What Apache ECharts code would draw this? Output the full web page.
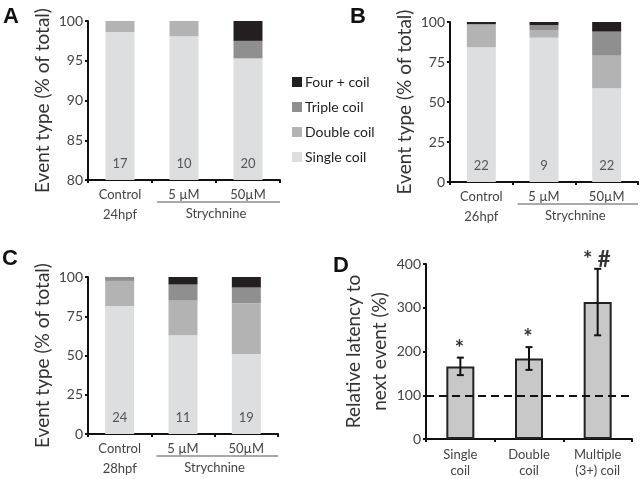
<!DOCTYPE html>
<html><head><meta charset="utf-8">
<script src="https://cdn.jsdelivr.net/npm/echarts@6/dist/echarts.min.js"></script>
<style>html,body{margin:0;padding:0;background:#fff}#c{width:640px;height:479px}</style>
</head><body><div id="c"></div>
<script>
// ---- data ----
const categories = ['Control', '5 µM', '50µM'];
const stages = ['24hpf', '26hpf', '28hpf'];
const treatment = 'Strychnine';
const seriesNames = ['Single coil', 'Double coil', 'Triple coil', 'Four + coil'];

const singleA = [98.6, 98.1, 95.3];
const doubleA = [1.4, 1.9, 0];
const tripleA = [0, 0, 2.2];
const fourA   = [0, 0, 2.5];
const nA = [17, 10, 20];

const singleB = [84.2, 90.2, 58.6];
const doubleB = [14.4, 4.8, 20.4];
const tripleB = [0, 3.1, 15.0];
const fourB   = [1.4, 1.9, 6.0];
const nB = [22, 9, 22];

const singleC = [81.5, 62.9, 50.9];
const doubleC = [16.0, 22.4, 32.3];
const tripleC = [2.5, 9.9, 10.1];
const fourC   = [0, 4.8, 6.7];
const nC = [24, 11, 19];

const catsD = ['Single\ncoil', 'Double\ncoil', 'Multiple\n(3+) coil'];
const meanD = [166, 184, 313];
const errD = [20, 26, 76];
const sigD = ['*', '*', '* #'];
const refLineD = 100;

const ticksA = {min: 80, max: 100, interval: 5};
const ticksBC = {min: 0, max: 100, interval: 25};
const ticksD = {min: 0, max: 400, interval: 100};

// ---- styling ----
const FONT = 'Lato, "Open Sans", sans-serif';
const colors = ['#dcdee0', '#b3b3b3', '#8f8f8f', '#231f20'];
const axisCol = '#111';

const chart = echarts.init(document.getElementById('c'), null, {renderer: 'canvas'});

const grids = [
  {left: 88, top: 21, width: 192, height: 159},
  {left: 450, top: 22, width: 188, height: 160},
  {left: 88, top: 277, width: 190, height: 158},
  {left: 426, top: 264, width: 206, height: 177}
];

function xAx(g, data, stage) {
  return {
    type: 'category', gridIndex: g, data: data,
    axisLine: {lineStyle: {color: axisCol, width: 2}},
    axisTick: {show: true, length: 3, lineStyle: {color: axisCol, width: 2}},
    axisLabel: {color: '#444', fontSize: 13, fontFamily: FONT, margin: 5, lineHeight: 20,
      formatter: v => (stage && v === data[0]) ? v + '\n' + stage : v},
    splitLine: {show: false}
  };
}
function yAx(g, t, name, gap, lh) {
  return {
    type: 'value', gridIndex: g, min: t.min, max: t.max, interval: t.interval,
    name: name, nameLocation: 'middle', nameGap: gap,
    nameTextStyle: {fontSize: 19, color: '#333', fontFamily: FONT, lineHeight: lh || 24},
    axisLine: {show: true, lineStyle: {color: axisCol, width: 2}},
    axisTick: {show: true, length: 3, lineStyle: {color: axisCol, width: 2}},
    axisLabel: {color: '#444', fontSize: 14, fontFamily: FONT, margin: 5},
    splitLine: {show: false}
  };
}

const panelData = [
  [singleA, doubleA, tripleA, fourA, nA],
  [singleB, doubleB, tripleB, fourB, nB],
  [singleC, doubleC, tripleC, fourC, nC]
];

const series = [];
panelData.forEach((pd, p) => {
  for (let s = 0; s < 4; s++) {
    const ser = {
      type: 'bar', name: seriesNames[s], stack: 'p' + p,
      xAxisIndex: p, yAxisIndex: p, data: pd[s], barWidth: 29,
      itemStyle: {color: colors[s]}, emphasis: {disabled: true}, clip: true
    };
    if (s === 0) {
      const nArr = pd[4];
      ser.label = {show: true, position: 'insideBottom', distance: 10, color: '#555',
        fontSize: 13, fontFamily: FONT, formatter: q => String(nArr[q.dataIndex])};
    }
    series.push(ser);
  }
});

series.push({
  type: 'bar', name: 'Relative latency', xAxisIndex: 3, yAxisIndex: 3, data: meanD, barWidth: 28,
  itemStyle: {color: '#c8c8c8', borderColor: '#222', borderWidth: 2},
  emphasis: {disabled: true},
  markLine: {silent: true, symbol: 'none', label: {show: false},
    lineStyle: {type: [8, 5], color: '#111', width: 2},
    data: [{yAxis: refLineD}]}
});
series.push({
  type: 'custom', name: 'err', xAxisIndex: 3, yAxisIndex: 3,
  data: meanD.map((m, i) => [i, m - errD[i], m + errD[i]]),
  z: 10,
  renderItem: (params, api) => {
    const i = api.value(0);
    const lo = api.coord([i, api.value(1)]);
    const hi = api.coord([i, api.value(2)]);
    const cw = 3.5;
    const st = {stroke: '#111', lineWidth: 2};
    return {type: 'group', children: [
      {type: 'line', shape: {x1: hi[0], y1: hi[1], x2: lo[0], y2: lo[1]}, style: st},
      {type: 'line', shape: {x1: hi[0] - cw, y1: hi[1], x2: hi[0] + cw, y2: hi[1]}, style: st},
      {type: 'line', shape: {x1: lo[0] - cw, y1: lo[1], x2: lo[0] + cw, y2: lo[1]}, style: st},
      {type: 'text', style: {text: sigD[i], x: hi[0] - 1, y: hi[1] + 2, align: 'center', verticalAlign: 'bottom',
        fontSize: 22, fontWeight: 'bold', fontFamily: FONT, fill: '#333'}}
    ]};
  }
});

const option = {
  animation: false,
  backgroundColor: '#fff',
  textStyle: {fontFamily: FONT},
  grid: grids,
  xAxis: [xAx(0, categories, stages[0]), xAx(1, categories, stages[1]), xAx(2, categories, stages[2]),
    Object.assign(xAx(3, catsD, null), {axisLabel: {color: '#444', fontSize: 13, fontFamily: FONT, margin: 8, lineHeight: 16}})],
  yAxis: [yAx(0, ticksA, 'Event type (% of total)', 33), yAx(1, ticksBC, 'Event type (% of total)', 33),
    yAx(2, ticksBC, 'Event type (% of total)', 33), yAx(3, ticksD, 'Relative latency to\nnext event (%)', 32, 26)],
  legend: {
    data: ['Four + coil', 'Triple coil', 'Double coil', 'Single coil'],
    orient: 'vertical', left: 287, top: 70, itemWidth: 10, itemHeight: 10, itemGap: 11,
    icon: 'rect', selectedMode: false,
    textStyle: {fontSize: 14, color: '#222', fontFamily: FONT, padding: [0, 0, 0, -2]}
  },
  series: series
};
chart.setOption(option);

// annotations: panel letters and treatment bracket
const gfx = [];
const letters = [['A', 3, 6], ['B', 350, 6], ['C', 2, 248], ['D', 333, 255]];
letters.forEach(l => gfx.push({type: 'text', left: l[1], top: l[2],
  style: {text: l[0], fontSize: 22, fontWeight: 'bold', fontFamily: 'Liberation Sans, Arial, sans-serif', fill: '#111'}}));
[0, 1, 2].forEach(p => {
  const c1 = chart.convertToPixel({xAxisIndex: p}, categories[1]);
  const c2 = chart.convertToPixel({xAxisIndex: p}, categories[2]);
  const ya = chart.convertToPixel({yAxisIndex: p}, p === 0 ? ticksA.min : ticksBC.min);
  const right = grids[p].left + grids[p].width;
  const cw = c2 - c1;
  gfx.push({type: 'line', shape: {x1: c1 - cw * 0.42, y1: ya + 22, x2: right, y2: ya + 22},
    style: {stroke: '#555', lineWidth: 1.2}});
  gfx.push({type: 'text', x: (c1 + c2) / 2, y: ya + 34,
    style: {text: treatment, fontSize: 13, fontFamily: FONT, fill: '#444', align: 'center', verticalAlign: 'middle'}});
});
chart.setOption({graphic: gfx});
</script>
</body></html>
